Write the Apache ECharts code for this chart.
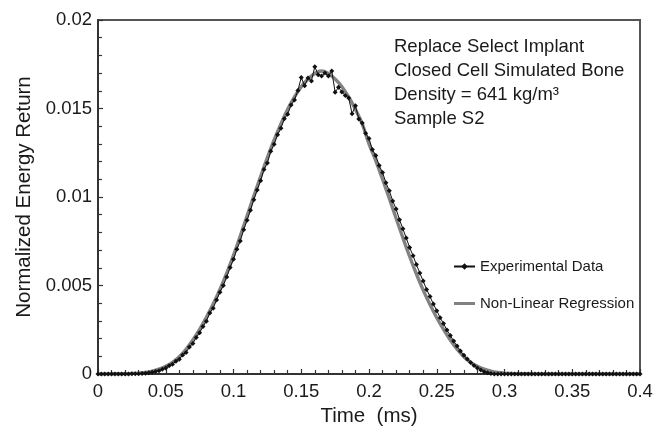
<!DOCTYPE html>
<html>
<head>
<meta charset="utf-8">
<script src="https://cdn.jsdelivr.net/npm/echarts@6/dist/echarts.min.js"></script>
<style>
html,body{margin:0;padding:0;background:#fff;}
#chart{width:668px;height:432px;}
</style>
</head>
<body>
<div id="chart"></div>
<script>
// ---- data ----
var expStep = 0.0025;   // ms between experimental samples, starting at 0
var experimentalData = [
  0,0,0,0,0,0,0,0,0,0,
  0.00001,0.00001,0.00002,0.00003,0.00004,0.00007,0.00010,0.00014,0.00019,0.00027,
  0.00034,0.00046,0.00055,0.00072,0.00083,0.00108,0.00122,0.00152,0.00172,0.00206,
  0.00233,0.00268,0.00298,0.00345,0.00372,0.00418,0.00462,0.00500,0.00548,0.00602,
  0.00648,0.00705,0.00752,0.00815,0.00868,0.00925,0.00985,0.01040,0.01092,0.01155,
  0.01192,0.01258,0.01298,0.01352,0.01388,0.01442,0.01468,0.01520,0.01548,0.01602,
  0.01675,0.01628,0.01672,0.01656,0.01736,0.01690,0.01684,0.01700,0.01684,0.01712,
  0.01592,0.01620,0.01593,0.01573,0.01560,0.01471,0.01515,0.01440,0.01418,0.01360,
  0.01330,0.01268,0.01235,0.01178,0.01138,0.01080,0.01035,0.00978,0.00932,0.00872,
  0.00820,0.00768,0.00715,0.00668,0.00618,0.00570,0.00525,0.00478,0.00438,0.00395,
  0.00358,0.00318,0.00285,0.00248,0.00218,0.00186,0.00158,0.00130,0.00106,0.00085,
  0.00065,0.00048,0.00034,0.00022,0.00013,0.00007,0.00003,0,0,0,
  0,0,0,0,0,0,0,0,0,0,
  0,0,0,0,0,0,0,0,0,0,
  0,0,0,0,0,0,0,0,0,0,
  0,0,0,0,0,0,0,0,0,0,
  0
];
var regStep = 0.005;    // ms between regression samples, starting at 0
var regressionData = [
  0,0,0.00001,0.00001,0.00001,0.00003,0.00005,0.00009,0.00016,0.00027,
  0.00043,0.00066,0.00098,0.00140,0.00192,0.00252,0.00320,0.00395,0.00478,0.00570,
  0.00670,0.00780,0.00892,0.01005,0.01115,0.01222,0.01322,0.01413,0.01495,0.01565,
  0.01623,0.01667,0.01698,0.01712,0.01698,0.01667,0.01623,0.01565,0.01495,0.01413,
  0.01300,0.01205,0.01100,0.00992,0.00880,0.00770,0.00664,0.00565,0.00474,0.00392,
  0.00318,0.00252,0.00192,0.00140,0.00098,0.00066,0.00043,0.00027,0.00016,0.00009,
  0.00005,0.00003,0.00001,0.00001,0.00001,0,0,0,0,0,
  0,0,0,0,0,0,0,0,0,0,
  0
];
var seriesNames = ['Experimental Data', 'Non-Linear Regression'];
var annotationLines = ['Replace Select Implant', 'Closed Cell Simulated Bone', 'Density = 641 kg/m\u00B3', 'Sample S2'];
var xTitle = 'Time  (ms)';
var yTitle = 'Normalized Energy Return';

// ---- build ----
function toPairs(arr, step) {
  return arr.map(function (v, i) { return [+(i * step).toFixed(4), v]; });
}
var FONT = "'Liberation Sans', Arial, Helvetica, sans-serif";
var chart = echarts.init(document.getElementById('chart'), null, {renderer: 'canvas'});
chart.setOption({
  animation: false,
  backgroundColor: '#fff',
  grid: {left: 98, right: 28, top: 20, bottom: 53, show: true, borderColor: '#555', borderWidth: 2, backgroundColor: 'transparent'},
  xAxis: {
    type: 'value', min: 0, max: 0.4, interval: 0.05,
    name: xTitle, nameLocation: 'middle', nameGap: 32,
    nameTextStyle: {fontFamily: FONT, fontSize: 20.5, color: '#1a1a1a'},
    axisLine: {show: true, onZero: false, lineStyle: {color: '#333', width: 2}},
    axisTick: {show: true, inside: true, length: 5, lineStyle: {color: '#333', width: 1.2}},
    minorTick: {show: true, splitNumber: 5, length: 4, lineStyle: {color: '#333', width: 1.2}},
    axisLabel: {fontFamily: FONT, fontSize: 18.5, color: '#1a1a1a', margin: 8,
      formatter: function (v) { return String(+v.toFixed(3)); }},
    splitLine: {show: false}
  },
  yAxis: {
    type: 'value', min: 0, max: 0.02, interval: 0.005,
    name: yTitle, nameLocation: 'middle', nameGap: 60,
    nameTextStyle: {fontFamily: FONT, fontSize: 20.5, color: '#1a1a1a'},
    axisLine: {show: true, onZero: false, lineStyle: {color: '#333', width: 2}},
    axisTick: {show: true, inside: true, length: 5, lineStyle: {color: '#333', width: 1.2}},
    minorTick: {show: true, splitNumber: 5, length: 4, lineStyle: {color: '#333', width: 1.2}},
    axisLabel: {fontFamily: FONT, fontSize: 18.5, color: '#1a1a1a', margin: 6,
      formatter: function (v) { return String(+v.toFixed(4)); }},
    splitLine: {show: false}
  },
  legend: {
    orient: 'vertical', left: 448, top: 254, itemWidth: 21, itemHeight: 8, itemGap: 22,
    data: [{name: seriesNames[0]}, {name: seriesNames[1], icon: 'path://M0,0h21v3h-21z'}],
    textStyle: {fontFamily: FONT, fontSize: 15, color: '#1a1a1a', lineHeight: 15}
  },
  graphic: [{
    type: 'text', left: 394, top: 35, z: 100,
    style: {text: annotationLines.join('\n'), font: '18.5px ' + FONT, fill: '#1a1a1a', lineHeight: 24}
  }],
  series: [
    {
      name: seriesNames[1], type: 'line', smooth: 0.4, showSymbol: false, symbol: 'none',
      data: toPairs(regressionData, regStep), z: 2,
      lineStyle: {color: '#828282', width: 3.4}, itemStyle: {color: '#828282'}
    },
    {
      name: seriesNames[0], type: 'line', symbol: 'diamond', symbolSize: 5, showSymbol: true,
      data: toPairs(experimentalData, expStep), z: 3,
      lineStyle: {color: '#111', width: 1}, itemStyle: {color: '#111'}
    }
  ]
});
</script>
</body>
</html>
